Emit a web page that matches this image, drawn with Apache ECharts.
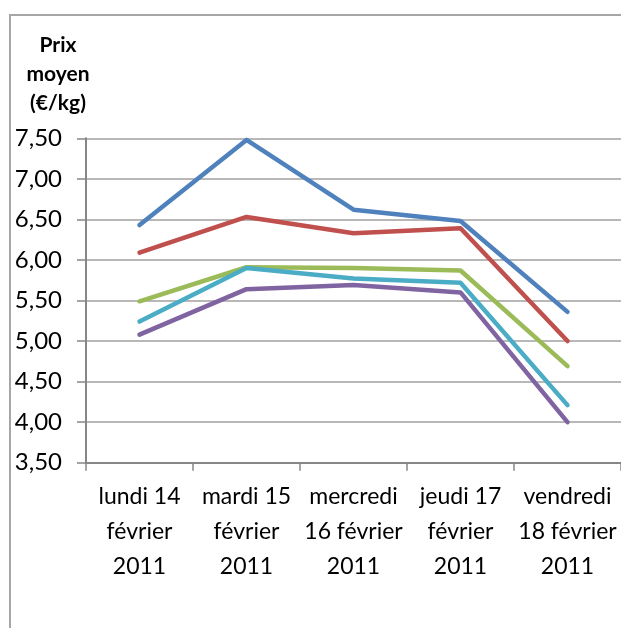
<!DOCTYPE html>
<html><head><meta charset="utf-8">
<script src="https://cdn.jsdelivr.net/npm/echarts@6/dist/echarts.min.js"></script>
<style>html,body{margin:0;padding:0;background:#fff}#c{width:621px;height:628px}</style>
</head><body><div id="c"></div>
<script>
const categories = ["lundi 14\nfévrier\n2011","mardi 15\nfévrier\n2011","mercredi\n16 février\n2011","jeudi 17\nfévrier\n2011","vendredi\n18 février\n2011"];
const serie1 = [6.43, 7.48, 6.62, 6.48, 5.36];
const serie2 = [6.09, 6.53, 6.33, 6.39, 5.00];
const serie3 = [5.49, 5.91, 5.90, 5.87, 4.69];
const serie4 = [5.08, 5.64, 5.69, 5.60, 4.00];
const serie5 = [5.24, 5.90, 5.77, 5.72, 4.21];
const colors = ["#4F81BD","#C0504D","#9BBB59","#8064A2","#4BACC6"];
const yTitle = "Prix\nmoyen\n(€/kg)";

const FONT = "Lato";
const chart = echarts.init(document.getElementById('c'), null, {renderer:'canvas'});
const mk = (d,i)=>({type:'line', data:d, symbol:'none', smooth:false,
  lineStyle:{color:colors[i], width:4.5, cap:'round', join:'round'}, itemStyle:{color:colors[i]}, z:2+i});
chart.setOption({
  animation:false,
  graphic:[
    {type:'rect', shape:{x:10,y:15,width:800,height:800}, style:{fill:'none', stroke:'#a6a6a6', lineWidth:2}, z:0},
    {type:'text', x:58, y:31, style:{text:yTitle, textAlign:'center', textVerticalAlign:'top', font:'bold 21px '+FONT, fill:'#000', lineHeight:29}}
  ],
  grid:{left:86, top:138.3, height:324.4, width:540, containLabel:false},
  xAxis:{type:'category', data:categories, boundaryGap:true,
    axisLine:{lineStyle:{color:'#868686', width:2}},
    axisTick:{show:true, length:8, alignWithLabel:false, lineStyle:{color:'#868686', width:1.5}},
    axisLabel:{color:'#000', fontFamily:FONT, fontSize:23, lineHeight:35, margin:16, interval:0}},
  yAxis:{type:'value', min:3.5, max:7.5, interval:0.5,
    axisLine:{show:true, lineStyle:{color:'#868686', width:2}},
    axisTick:{show:true, length:9, lineStyle:{color:'#868686', width:1.5}},
    splitLine:{show:true, lineStyle:{color:'#a0a0a0', width:1.5}},
    axisLabel:{color:'#000', fontFamily:FONT, fontSize:24, margin:24, formatter:v=>v.toFixed(2).replace('.',',')}},
  series:[mk(serie1,0),mk(serie2,1),mk(serie3,2),mk(serie4,3),mk(serie5,4)]
});
</script></body></html>
